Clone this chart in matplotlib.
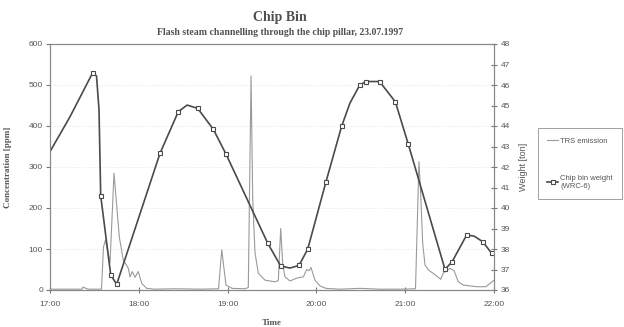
import matplotlib
matplotlib.use("Agg")
import matplotlib.pyplot as plt
import numpy as np

# TRS emission (ppm), time in hours
trs_time = [17.000, 17.360, 17.372, 17.428, 17.580, 17.602, 17.625, 17.676, 17.721,
            17.780, 17.825, 17.882, 17.901, 17.927, 17.957, 17.994, 18.033, 18.089,
            18.182, 18.408, 18.689, 18.898, 18.934, 18.982, 19.050, 19.196, 19.233,
            19.264, 19.283, 19.309, 19.346, 19.421, 19.534, 19.571, 19.598, 19.620,
            19.646, 19.703, 19.778, 19.853, 19.891, 19.920, 19.939, 19.984, 20.041,
            20.108, 20.266, 20.491, 20.716, 20.941, 21.116, 21.155, 21.174, 21.197,
            21.223, 21.261, 21.355, 21.400, 21.429, 21.505, 21.550, 21.598, 21.655,
            21.805, 21.910, 21.955, 22.000]
trs_ppm = [2, 2, 7, 2, 2, 105, 122, 66, 285,
           130, 73, 53, 32, 45, 31, 45, 16, 4,
           2, 3, 2, 3, 98, 12, 4, 3, 6,
           522, 220, 90, 41, 24, 20, 23, 150, 65,
           32, 22, 29, 32, 50, 47, 55, 24, 10,
           4, 2, 4, 2, 2, 3, 313, 236, 114,
           61, 49, 34, 26, 41, 53, 47, 20, 12,
           8, 8, 16, 24]

# Chip bin weight (ton); only some readings carry a marker
wt_time = [17.000, 17.225, 17.481, 17.524, 17.552, 17.571, 17.684, 17.751, 18.239,
           18.445, 18.544, 18.663, 18.839, 18.982, 19.452, 19.598, 19.703, 19.804,
           19.902, 20.108, 20.285, 20.378, 20.491, 20.564, 20.711, 20.889, 21.035,
           21.448, 21.527, 21.692, 21.775, 21.872, 21.974]
wt_ton = [42.75, 44.45, 46.60, 46.44, 44.78, 40.60, 36.73, 36.28, 42.67,
          44.70, 45.02, 44.86, 43.84, 42.63, 38.28, 37.17, 37.07, 37.20,
          37.99, 41.28, 44.00, 45.12, 46.02, 46.17, 46.17, 45.18, 43.11,
          37.01, 37.37, 38.68, 38.63, 38.36, 37.79]
wt_marked = [2, 5, 6, 7, 8, 9, 11, 12, 13, 14, 15, 17, 18, 19, 20, 22, 23, 24,
             25, 26, 27, 28, 29, 31, 32]

hours = [17, 18, 19, 20, 21, 22]
hour_labels = ["17:00", "18:00", "19:00", "20:00", "21:00", "22:00"]

txt = "#555555"
fig = plt.figure(figsize=(6.24, 3.27), dpi=100)
ax = fig.add_axes([50/624, 1-290/327, 444/624, 246/327])

ax.plot(trs_time, trs_ppm, color="#9a9a9a", lw=0.8, label="TRS emission")
ax.set_xlim(17, 22)
ax.set_ylim(0, 600)
ax.set_yticks(range(0, 601, 100))
ax.set_xticks(hours)
ax.set_xticklabels(hour_labels)
for v in range(100, 600, 100):
    ax.axhline(v, color="#e2e2e2", lw=0.6, ls=":", zorder=0)

ax2 = ax.twinx()
ax2.plot(wt_time, wt_ton, color="#4a4a4a", lw=1.2, marker="s", markersize=3.5,
         markerfacecolor="white", markeredgecolor="#4a4a4a", markeredgewidth=0.8,
         markevery=wt_marked, label="Chip bin weight\n(WRC-6)")
ax2.set_ylim(36, 48)
ax2.set_yticks(range(36, 49))

for a in (ax, ax2):
    for s in a.spines.values():
        s.set_color("#888888")
        s.set_linewidth(0.8)
ax.tick_params(axis="y", direction="out", length=3, labelsize=6, colors="#777777",
               labelcolor=txt, pad=2)
ax.tick_params(axis="x", direction="inout", length=4, labelsize=6, colors="#777777",
               labelcolor=txt, pad=6)
ax2.tick_params(axis="y", direction="inout", length=4, labelsize=6, colors="#777777",
                labelcolor=txt, pad=3)
for lbl in ax.get_xticklabels() + ax.get_yticklabels() + ax2.get_yticklabels():
    lbl.set_family("Liberation Sans")

ax.set_ylabel("Concentration [ppm]", fontsize=6.5, family="Liberation Serif",
              fontweight="bold", color=txt, labelpad=12)
ax2.set_ylabel("Weight [ton]", fontsize=6.5, family="Liberation Sans", color=txt,
               labelpad=6)
ax.set_xlabel("Time", fontsize=6.5, family="Liberation Serif", fontweight="bold",
              color=txt, labelpad=8)

fig.text(0.449, 0.948, "Chip Bin", ha="center", va="center", fontsize=10,
         family="Liberation Serif", fontweight="bold", color="#505050")
fig.text(0.449, 0.900, "Flash steam channelling through the chip pillar, 23.07.1997",
         ha="center", va="center", fontsize=7, family="Liberation Serif",
         fontweight="bold", color="#505050")

h1, l1 = ax.get_legend_handles_labels()
h2, l2 = ax2.get_legend_handles_labels()
leg = fig.legend(h1 + h2, l1 + l2, loc="upper left",
                 bbox_to_anchor=(538/624, 1-128/327), frameon=True, fancybox=False,
                 prop={"family": "Liberation Sans", "size": 5.5}, labelspacing=4.0,
                 handlelength=1.4, handletextpad=0.3, borderpad=1.2,
                 borderaxespad=0)
leg.get_frame().set_edgecolor("#888888")
leg.get_frame().set_linewidth(0.7)
for t in leg.get_texts():
    t.set_color(txt)

fig.savefig("out.png", dpi=100)
